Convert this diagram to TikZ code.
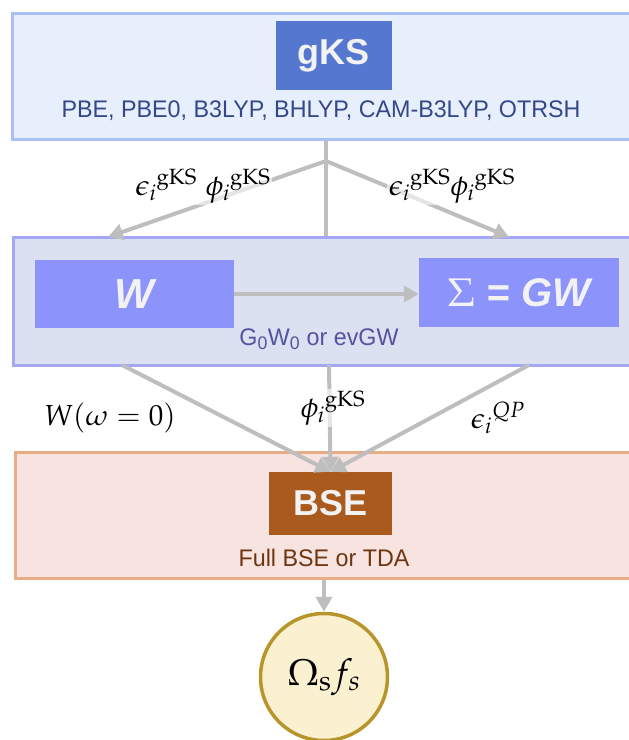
\documentclass[tikz,border=0pt]{standalone}
\usepackage[no-math]{fontspec}
\usepackage{mathpazo}
\newfontfamily\sansf{Liberation Sans}
\newfontfamily\sansnarrow[FakeStretch=0.97]{Liberation Sans}
\usetikzlibrary{arrows.meta}

\definecolor{topfill}{HTML}{E8EFFC}
\definecolor{topline}{HTML}{A9C0F6}
\definecolor{gksfill}{HTML}{5677D0}
\definecolor{gkstext}{HTML}{34478A}
\definecolor{midfill}{HTML}{DCE1F1}
\definecolor{midline}{HTML}{A3A7F6}
\definecolor{gwfill}{HTML}{8C93FA}
\definecolor{gwtext}{HTML}{5254A0}
\definecolor{bsefill}{HTML}{F7E4E1}
\definecolor{bseline}{HTML}{E8AD85}
\definecolor{bsebox}{HTML}{AB5A1D}
\definecolor{bsetext}{HTML}{6E3510}
\definecolor{circfill}{HTML}{FBF1D0}
\definecolor{circline}{HTML}{B8952A}
\definecolor{conngray}{HTML}{BEBEBE}
\definecolor{offwhite}{HTML}{F2F2F2}

\tikzset{
  panel/.style={draw, line width=3pt, inner sep=0pt},
  block/.style={inner sep=0pt, text=offwhite},
  conn/.style={draw=conngray, line width=4pt},
  tip/.style={-{Triangle[length=15pt,width=16pt]}},
  mlabel/.style={inner sep=2pt, font=\fontsize{29}{33}\selectfont},
  veil/.style={mlabel, fill=white, fill opacity=0.6, text opacity=1},
  caption/.style={font=\sansnarrow\fontsize{24}{28}\selectfont}
}

\begin{document}
\begin{tikzpicture}[x=1pt,y=-1pt]
\useasboundingbox (0,0) rectangle (629,740);

% gKS stage
\node[panel, draw=topline, fill=topfill, minimum width=620pt, minimum height=126pt] (top) at (322,76) {};
\node[block, fill=gksfill, minimum width=116pt, minimum height=69pt,
      font=\sansf\bfseries\fontsize{36}{40}\selectfont] (gks) at (333.5,55.5) {gKS};
\node[caption, text=gkstext] (gkscap) at (321,111) {PBE, PBE0, B3LYP, BHLYP, CAM-B3LYP, OTRSH};

% GW stage
\node[panel, draw=midline, fill=midfill, minimum width=627pt, minimum height=128pt] (mid) at (326.5,301) {};
\node[block, fill=gwfill, minimum width=199pt, minimum height=68pt,
      font=\sansf\bfseries\itshape\fontsize{42}{46}\selectfont] (w) at (134.5,294) {W};
\node[block, fill=gwfill, minimum width=200pt, minimum height=69pt,
      font=\sansf\bfseries\itshape\fontsize{40}{44}\selectfont] (sig) at (519,292.5)
      {\fontsize{40}{44}\selectfont$\Sigma$ = GW};
\node[caption, text=gwtext] (gwcap) at (319,339) {G\textsubscript{0}W\textsubscript{0} or evGW};

% BSE stage
\node[panel, draw=bseline, fill=bsefill, minimum width=625pt, minimum height=126pt] (bseout) at (327.5,515) {};
\node[block, fill=bsebox, minimum width=123pt, minimum height=63pt,
      font=\sansf\bfseries\fontsize{36}{40}\selectfont] (bse) at (330.5,503.5) {BSE};
\node[caption, text=bsetext] (bsecap) at (324,558) {Full BSE or TDA};

% excitation energies and oscillator strengths
\node[circle, draw=circline, fill=circfill, line width=3.5pt, minimum size=127pt, inner sep=0pt,
      font=\fontsize{37}{41}\selectfont] (out) at (324,677) {$\Omega_{\mathrm{s}}f_s$};

% connectors
\coordinate (jn) at (326,161);
\coordinate (lt) at (108,237);
\coordinate (rt) at (509,237);
\coordinate (bl) at (122,365);
\coordinate (bm) at (329,365);
\coordinate (br) at (529,365);

\draw[conn] (top.south -| jn) -- (jn) -- (mid.north -| jn);
\draw[conn, tip] (jn) -- (lt);
\draw[conn, tip] (jn) -- (rt);
\draw[conn, tip] (w.east) -- (w.east -| sig.west);
\draw[conn, tip] (bl) -- (bse.north);
\draw[conn, tip] (bm) -- (bse.north);
\draw[conn, tip] (br) -- (bse.north);
\draw[conn, tip] (bseout.south -| out) -- (out.north);

% labels on the connectors
\node[veil] (lab1) at (203,186) {$\epsilon_i{}^{\mathrm{gKS}}\ \phi_i{}^{\mathrm{gKS}}$};
\node[veil] (lab2) at (452,186) {$\epsilon_i{}^{\mathrm{gKS}}\phi_i{}^{\mathrm{gKS}}$};
\node[mlabel] (lab3) at (110,418) {$W(\omega=0)$};
\node[veil] (lab4) at (333,408) {$\phi_i{}^{\mathrm{gKS}}$};
\node[mlabel] (lab5) at (498,418) {$\epsilon_i{}^{QP}$};
\end{tikzpicture}
\end{document}
